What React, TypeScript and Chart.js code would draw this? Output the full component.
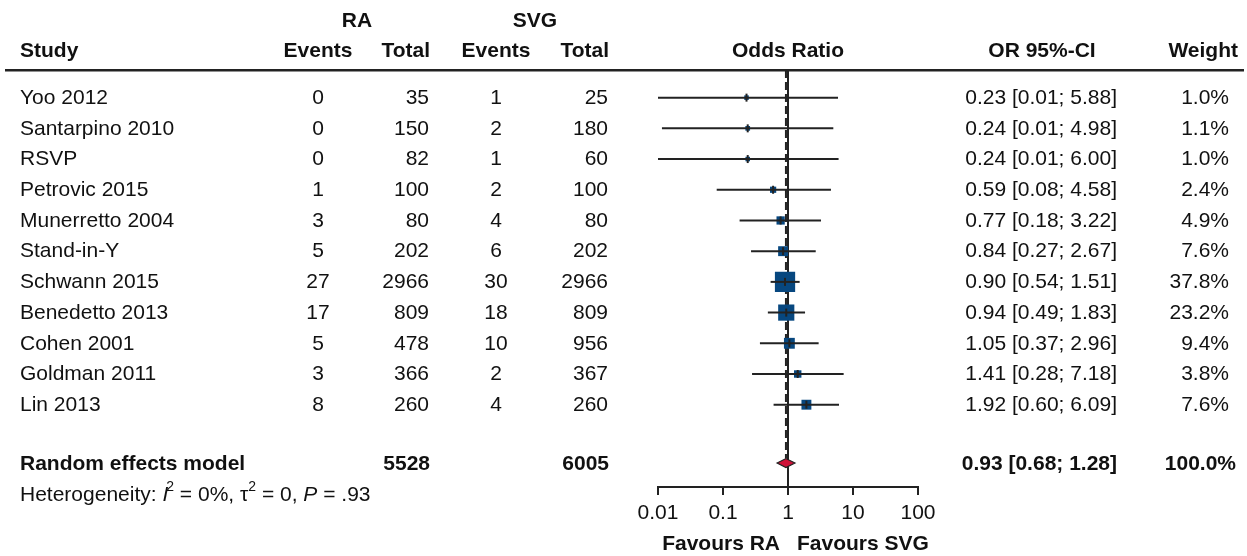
import React, { useEffect, useRef } from 'react';
import { Chart, registerables } from 'chart.js';

Chart.register(...registerables);

// ---------- data ----------
const studies = [
  'Yoo 2012',
  'Santarpino 2010',
  'RSVP',
  'Petrovic 2015',
  'Munerretto 2004',
  'Stand-in-Y',
  'Schwann 2015',
  'Benedetto 2013',
  'Cohen 2001',
  'Goldman 2011',
  'Lin 2013',
];
const raEvents = [0, 0, 0, 1, 3, 5, 27, 17, 5, 3, 8];
const raTotal = [35, 150, 82, 100, 80, 202, 2966, 809, 478, 366, 260];
const svgEvents = [1, 2, 1, 2, 4, 6, 30, 18, 10, 2, 4];
const svgTotal = [25, 180, 60, 100, 80, 202, 2966, 809, 956, 367, 260];
const oddsRatio = [0.23, 0.24, 0.24, 0.59, 0.77, 0.84, 0.9, 0.94, 1.05, 1.41, 1.92];
const ciLower = [0.0092, 0.0115, 0.01, 0.08, 0.18, 0.27, 0.54, 0.49, 0.37, 0.28, 0.6];
const ciUpper = [5.88, 4.98, 6.0, 4.58, 3.22, 2.67, 1.51, 1.83, 2.96, 7.18, 6.09];
const weights = [1.0, 1.1, 1.0, 2.4, 4.9, 7.6, 37.8, 23.2, 9.4, 3.8, 7.6];

const pooledLabel = 'Random effects model';
const pooledOR = [0.93];
const pooledLower = [0.68];
const pooledUpper = [1.28];
const pooledRaTotal = [5528];
const pooledSvgTotal = [6005];
const pooledWeight = [100.0];

const axisTicks = [0.01, 0.1, 1, 10, 100];
const axisTickLabels = ['0.01', '0.1', '1', '10', '100'];

// ---------- style ----------
const FONT = '"Liberation Sans", Arial, Helvetica, sans-serif';
const FS = 21;
const TEXT = '#111';
const LINE = '#222';
const BLUE = '#07477f';
const RED = '#cf1238';

const fmt2 = (v: number) => v.toFixed(2);
const ciText = (e: number, l: number, u: number) => `${fmt2(e)} [${fmt2(l)}; ${fmt2(u)}]`;

export default function App() {
  const ref = useRef<HTMLCanvasElement>(null);

  useEffect(() => {
    if (!ref.current) return;
    const rows = studies.map((_, i) => i);
    const summaryRow = studies.length + 0.9;
    const diamondHalf = 4.5;

    const forestPlugin = {
      id: 'forestText',
      beforeDatasetsDraw(chart: any) {
        const { ctx, chartArea } = chart;
        const xs = chart.scales.x;
        const ys = chart.scales.y;
        ctx.save();
        const x1 = xs.getPixelForValue(1);
        ctx.strokeStyle = LINE;
        ctx.lineWidth = 2;
        ctx.beginPath();
        ctx.moveTo(x1, chartArea.top);
        ctx.lineTo(x1, chartArea.bottom);
        ctx.stroke();
        const xp = xs.getPixelForValue(pooledOR[0]);
        ctx.setLineDash([8, 4]);
        ctx.beginPath();
        ctx.moveTo(xp, chartArea.top);
        ctx.lineTo(xp, ys.getPixelForValue(summaryRow) - diamondHalf);
        ctx.stroke();
        ctx.restore();
      },
      afterDatasetsDraw(chart: any) {
        const { ctx } = chart;
        const xs = chart.scales.x;
        const ys = chart.scales.y;
        ctx.save();
        const yd = ys.getPixelForValue(summaryRow);
        const xl = xs.getPixelForValue(pooledLower[0]);
        const xe = xs.getPixelForValue(pooledOR[0]);
        const xu = xs.getPixelForValue(pooledUpper[0]);
        ctx.beginPath();
        ctx.moveTo(xl, yd);
        ctx.lineTo(xe, yd - diamondHalf);
        ctx.lineTo(xu, yd);
        ctx.lineTo(xe, yd + diamondHalf);
        ctx.closePath();
        ctx.fillStyle = RED;
        ctx.fill();
        ctx.strokeStyle = LINE;
        ctx.lineWidth = 1.2;
        ctx.stroke();
        ctx.restore();
      },
      afterDraw(chart: any) {
        const { ctx } = chart;
        const xs = chart.scales.x;
        const ys = chart.scales.y;
        ctx.save();
        ctx.fillStyle = TEXT;
        ctx.textBaseline = 'middle';
        const txt = (s: string, x: number, y: number, align: CanvasTextAlign, bold = false) => {
          ctx.font = `${bold ? 'bold ' : ''}${FS}px ${FONT}`;
          ctx.textAlign = align;
          ctx.fillText(s, x, y);
        };
        // column anchors
        const cStudy = 20;
        const cRaEv = 318;
        const cRaTot = 430;
        const cSvgEv = 496;
        const cSvgTot = 609;
        const cCIhead = 1042;
        const cCI = 1117;
        const cW = 1229;
        const hy1 = 21;
        const hy2 = 51;
        // headers
        txt('RA', 357, hy1, 'center', true);
        txt('SVG', 535, hy1, 'center', true);
        txt('Study', cStudy, hy2, 'left', true);
        txt('Events', cRaEv, hy2, 'center', true);
        txt('Total', cRaTot, hy2, 'right', true);
        txt('Events', cSvgEv, hy2, 'center', true);
        txt('Total', cSvgTot, hy2, 'right', true);
        txt('Odds Ratio', xs.getPixelForValue(1), hy2, 'center', true);
        txt('OR 95%-CI', cCIhead, hy2, 'center', true);
        txt('Weight', 1238, hy2, 'right', true);
        // header rule
        ctx.fillStyle = LINE;
        ctx.fillRect(5, 69, 1239, 2.5);
        ctx.fillStyle = TEXT;
        // study rows
        rows.forEach((i) => {
          const y = ys.getPixelForValue(i) + 0.5;
          txt(studies[i], cStudy, y, 'left');
          txt(String(raEvents[i]), cRaEv, y, 'center');
          txt(String(raTotal[i]), cRaTot - 1, y, 'right');
          txt(String(svgEvents[i]), cSvgEv, y, 'center');
          txt(String(svgTotal[i]), cSvgTot - 1, y, 'right');
          txt(ciText(oddsRatio[i], ciLower[i], ciUpper[i]), cCI, y, 'right');
          txt(`${weights[i].toFixed(1)}%`, cW, y, 'right');
        });
        // summary row
        const ys2 = ys.getPixelForValue(summaryRow) + 1.5;
        txt(pooledLabel, cStudy, ys2, 'left', true);
        txt(String(pooledRaTotal[0]), cRaTot, ys2, 'right', true);
        txt(String(pooledSvgTotal[0]), cSvgTot, ys2, 'right', true);
        txt(ciText(pooledOR[0], pooledLower[0], pooledUpper[0]), cCI, ys2, 'right', true);
        txt(`${pooledWeight[0].toFixed(1)}%`, 1236, ys2, 'right', true);
        // heterogeneity line
        const hy = 495;
        let x = cStudy;
        const seg = (s: string, style: string, size: number, dy = 0) => {
          ctx.font = `${style}${size}px ${FONT}`;
          ctx.textAlign = 'left';
          ctx.fillText(s, x, hy + dy);
          x += ctx.measureText(s).width;
        };
        seg('Heterogeneity: ', '', FS);
        seg('I', 'italic ', FS);
        x -= 2;
        seg('2', '', 14, -8);
        seg(' = 0%, \u03c4', '', FS);
        seg('2', '', 14, -8);
        seg(' = 0, ', '', FS);
        seg('P', 'italic ', FS);
        seg(' = .93', '', FS);
        // favours labels
        const x1 = xs.getPixelForValue(1);
        txt('Favours RA', x1 - 8, 544, 'right', true);
        txt('Favours SVG', x1 + 9, 544, 'left', true);
        ctx.restore();
      },
    };

    const squareSide = (w: number) => 3.05 * Math.sqrt(w) + 1.5;

    const ciDatasets = rows.map((i) => ({
      type: 'scatter' as const,
      data: [
        { x: ciLower[i], y: i },
        { x: ciUpper[i], y: i },
      ],
      showLine: true,
      borderColor: LINE,
      borderWidth: 2,
      pointRadius: 0,
      order: 2,
    }));

    const chart = new Chart(ref.current, {
      type: 'scatter',
      data: {
        datasets: [
          {
            data: rows.map((i) => ({ x: oddsRatio[i], y: i })),
            pointStyle: 'rect',
            pointRadius: (c: any) => squareSide(weights[c.dataIndex] ?? 1) / Math.SQRT2,
            backgroundColor: BLUE,
            borderWidth: 0,
            order: 3,
          } as any,
          ...ciDatasets,
          {
            data: rows.map((i) => ({ x: oddsRatio[i], y: i })),
            pointStyle: 'line',
            rotation: 90,
            pointRadius: 4,
            borderColor: LINE,
            borderWidth: 2,
            order: 1,
          } as any,
        ],
      },
      options: {
        animation: false,
        responsive: false,
        events: [],
        layout: { padding: { left: 658, right: 329, top: 70, bottom: 29 } },
        plugins: { legend: { display: false }, tooltip: { enabled: false } },
        scales: {
          x: {
            type: 'logarithmic',
            min: 0.01,
            max: 100,
            afterBuildTicks: (s: any) => {
              s.ticks = axisTicks.map((v) => ({ value: v }));
            },
            afterFit: (s: any) => {
              s.height = 40;
            },
            ticks: {
              callback: (v: any) => {
                const k = axisTicks.indexOf(Number(v));
                return k >= 0 ? axisTickLabels[k] : '';
              },
              font: { family: FONT, size: FS },
              color: TEXT,
              padding: 6,
              maxRotation: 0,
              autoSkip: false,
            },
            grid: {
              drawOnChartArea: false,
              drawTicks: true,
              tickLength: 8,
              color: LINE,
              lineWidth: 2,
            },
            border: { display: true, color: LINE, width: 2 },
          },
          y: {
            type: 'linear',
            reverse: true,
            min: -0.9,
            max: 12.68,
            display: false,
          },
        },
      } as any,
      plugins: [forestPlugin],
    });
    return () => chart.destroy();
  }, []);

  return (
    <div style={{ position: 'absolute', left: 0, top: 0, width: 1247, height: 556, background: '#fff' }}>
      <canvas ref={ref} width={1247} height={556} style={{ width: 1247, height: 556, display: 'block' }} />
    </div>
  );
}
